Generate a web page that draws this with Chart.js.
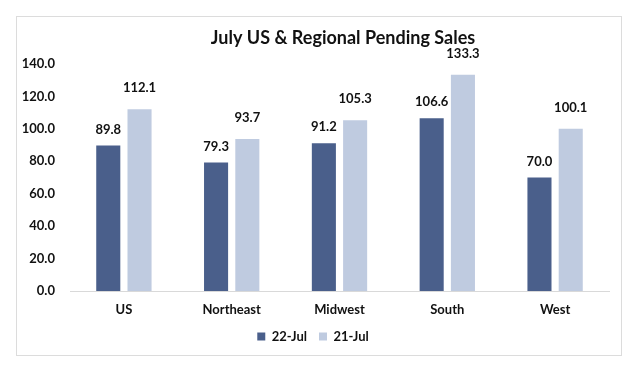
<!DOCTYPE html>
<html>
<head>
<meta charset="utf-8">
<script src="https://cdn.jsdelivr.net/npm/chart.js@4"></script>
<style>
    body { margin: 0; background: #fff; }
    #box {
        position: absolute; left: 16px; top: 16px;
        width: 604px; height: 338px;
        border: 1px solid #dcdcdc;
    }
</style>
</head>
<body>
<div id="box"><canvas id="myChart" width="604" height="338"></canvas></div>
<script>
var regions = ["US", "Northeast", "Midwest", "South", "West"];
var jul22 = [89.8, 79.3, 91.2, 106.6, 70.0];
var jul21 = [112.1, 93.7, 105.3, 133.3, 100.1];
var seriesNames = ["22-Jul", "21-Jul"];
var chartTitle = "July US & Regional Pending Sales";

var fontFamily = "Lato, 'Liberation Sans', sans-serif";

// value labels above each bar + the title (sits a bit right of centre in the original)
var barLabels = {
    id: 'barLabels',
    afterDatasetsDraw: (chart) => {
        const ctx = chart.ctx;
        ctx.save();
        ctx.fillStyle = "#111";
        ctx.textAlign = "center";
        ctx.textBaseline = "middle";
        ctx.font = "bold 18px " + fontFamily;
        ctx.fillText(chartTitle, 326, 21);
        ctx.font = "bold 13px " + fontFamily;
        chart.data.datasets.forEach((ds, i) => {
            let meta = chart.getDatasetMeta(i);
            let lift = i == 0 ? 16 : 21;
            meta.data.forEach((bar, j) => {
                ctx.fillText(ds.data[j].toFixed(1), bar.x, bar.y - lift);
            });
        });
        ctx.restore();
    }
};

var ctx = document.getElementById('myChart').getContext('2d');
var myChart = new Chart(ctx, {
    type: 'bar',
    data: {
        labels: regions,
        datasets: [{
            label: seriesNames[0],
            data: jul22,
            backgroundColor: '#4a5f8b',
            barPercentage: 0.77,
            categoryPercentage: 0.58
        },
        {
            label: seriesNames[1],
            data: jul21,
            backgroundColor: '#bfcbe0',
            barPercentage: 0.77,
            categoryPercentage: 0.58
        }]
    },
    options: {
        responsive: false,
        animation: false,
        layout: { padding: { left: 0, right: 12, top: 47, bottom: 2 } },
        scales: {
            x: {
                grid: { display: false, drawTicks: false },
                border: { color: '#d9d9d9', width: 1 },
                afterFit: (scale) => { scale.height = 27; },
                ticks: {
                    color: '#111',
                    padding: 11,
                    font: { family: fontFamily, size: 13, weight: 'bold' }
                }
            },
            y: {
                min: 0,
                max: 140,
                grid: { display: false, drawTicks: false },
                border: { display: false },
                afterFit: (scale) => { scale.width = 53; },
                ticks: {
                    stepSize: 20,
                    color: '#111',
                    padding: 15,
                    font: { family: fontFamily, size: 13, weight: 'bold' },
                    callback: (v) => v.toFixed(1)
                }
            }
        },
        plugins: {
            title: { display: false },
            legend: {
                position: 'bottom',
                labels: {
                    color: '#111',
                    boxWidth: 8,
                    boxHeight: 8,
                    padding: 12,
                    font: { family: fontFamily, size: 13, weight: 'bold' }
                }
            },
            tooltip: { enabled: false }
        }
    },
    plugins: [barLabels]
});
</script>
</body>
</html>
